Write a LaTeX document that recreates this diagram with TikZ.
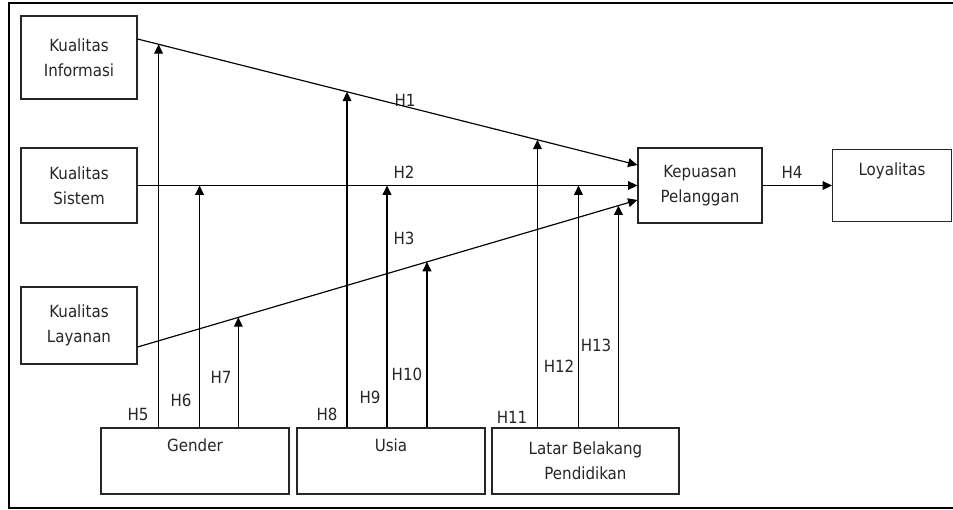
\documentclass[tikz,border=0pt]{standalone}
\usepackage{fontspec}
\setmainfont{DejaVu Sans Condensed}
\usetikzlibrary{arrows.meta}

\begin{document}
\begin{tikzpicture}[x=0.03cm, y=-0.03cm,
    box/.style={draw=black!85, line width=1pt, inner sep=0pt, align=center,
      text=black!85, font=\fontsize{14.3}{21}\selectfont},
    arr/.style={line width=1pt, -{Triangle[length=8pt,width=7.5pt]}},
    lab/.style={text=black!85, inner sep=0pt, font=\fontsize{14.3}{17}\selectfont}]
    \useasboundingbox (0,0) rectangle (953,510);
    % Frame
    \draw[line width=2.2pt] (953,3) -- (9,3) -- (9,508) -- (953,508);

    % Exogenous variables
    \node[box, minimum width=3.48cm, minimum height=2.49cm] (ki) at (79,57.5) {Kualitas\\Informasi};
    \node[box, minimum width=3.48cm, minimum height=2.25cm] (ks) at (79,185.5) {Kualitas\\Sistem};
    \node[box, minimum width=3.48cm, minimum height=2.31cm] (kl) at (79,325.5) {Kualitas\\Layanan};

    % Endogenous variables
    \node[box, minimum width=3.72cm, minimum height=2.25cm] (kp) at (700,185.5) {Kepuasan\\Pelanggan};
    \node[box, minimum width=3.57cm, minimum height=2.16cm] (loy) at (892,185.5) {Loyalitas\\\strut};

    % Moderators
    \node[box, minimum width=5.64cm, minimum height=1.98cm] (gen) at (195,461) {Gender\\\strut};
    \node[box, minimum width=5.64cm, minimum height=1.98cm] (usia) at (391,461) {Usia\\\strut};
    \node[box, minimum width=5.61cm, minimum height=1.98cm] (lbp) at (585.5,461) {Latar Belakang\\Pendidikan};

    % Direct paths
    \draw[arr] ([yshift=0.555cm]ki.east) -- coordinate[pos=0.042] (m5) coordinate[pos=0.419] (m8)
        coordinate[pos=0.8] (m11) ([yshift=0.615cm]kp.west);
    \draw[arr] (ks.east) -- coordinate[pos=0.124] (m6) coordinate[pos=0.499] (m9)
        coordinate[pos=0.882] (m12) (kp.west);
    \draw[arr] ([yshift=-0.645cm]kl.east) -- coordinate[pos=0.2016] (m7) coordinate[pos=0.579] (m10)
        coordinate[pos=0.962] (m13) ([yshift=-0.435cm]kp.west);
    \draw[arr] (kp.east) -- (loy.west);

    % Moderating paths
    \draw[arr] (gen.north -| m5) -- (m5);
    \draw[arr] (gen.north -| m6) -- (m6);
    \draw[arr] (gen.north -| m7) -- (m7);
    \draw[arr] (usia.north -| m8) -- (m8);
    \draw[arr] (usia.north -| m9) -- (m9);
    \draw[arr] (usia.north -| m10) -- (m10);
    \draw[arr] (lbp.north -| m11) -- (m11);
    \draw[arr] (lbp.north -| m12) -- (m12);
    \draw[arr] (lbp.north -| m13) -- (m13);

    % Hypothesis labels
    \node[lab] (h1) at (405,100) {H1};
    \node[lab] (h2) at (404,172) {H2};
    \node[lab] (h3) at (404,238) {H3};
    \node[lab] (h4) at (792,172) {H4};
    \node[lab] (h5) at (138,415) {H5};
    \node[lab] (h6) at (181,400) {H6};
    \node[lab] (h7) at (221,377) {H7};
    \node[lab] (h8) at (327,414) {H8};
    \node[lab] (h9) at (370,397) {H9};
    \node[lab] (h10) at (407,374) {H10};
    \node[lab] (h11) at (512,417) {H11};
    \node[lab] (h12) at (559,366) {H12};
    \node[lab] (h13) at (596,345) {H13};
\end{tikzpicture}
\end{document}
